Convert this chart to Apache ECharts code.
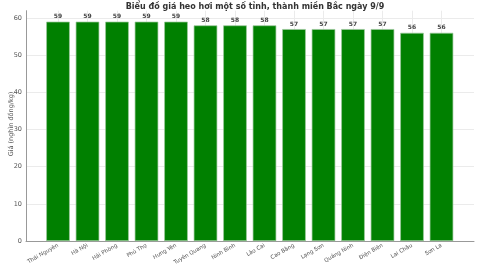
<!DOCTYPE html>
<html><head><meta charset="utf-8">
<script src="https://cdn.jsdelivr.net/npm/echarts@6/dist/echarts.min.js"></script>
<style>html,body{margin:0;padding:0;background:#fff}#c{width:480px;height:270px}</style>
</head><body><div id="c"></div>
<script>
const categories = ['Thái Nguyên','Hà Nội','Hải Phòng','Phú Thọ','Hưng Yên','Tuyên Quang','Ninh Bình','Lào Cai','Cao Bằng','Lạng Sơn','Quảng Ninh','Điện Biên','Lai Châu','Sơn La'];
const prices = [59,59,59,59,59,58,58,58,57,57,57,57,56,56];
const yTicks = [0,10,20,30,40,50,60];
const titleText = 'Biểu đồ giá heo hơi một số tỉnh, thành miền Bắc ngày 9/9';
const yName = 'Giá (nghìn đồng/kg)';

const font = 'DejaVu Sans';
const yMax = 61.95;
const chart = echarts.init(document.getElementById('c'), null, {renderer:'canvas'});
chart.setOption({
  animation:false,
  textStyle:{fontFamily:font},
  title:{text:titleText,left:250,textAlign:'center',top:-2,textStyle:{fontFamily:font,fontSize:8,fontWeight:'bold',color:'#333'}},
  graphic:[{type:'text',x:11,y:124,rotation:Math.PI/2,
    style:{text:yName,fontFamily:font,fontSize:6.5,fill:'#555',textAlign:'center',textVerticalAlign:'middle'}}],
  grid:[
    {left:26,right:6,top:10.7,bottom:29,containLabel:false,outerBoundsMode:'none'},
    {left:58,right:38.5,top:10.7,bottom:29,containLabel:false,outerBoundsMode:'none'}
  ],
  xAxis:[
    {gridIndex:0,type:'value',min:0,max:1,axisLine:{show:true,lineStyle:{color:'#999',width:1}},axisTick:{show:false},axisLabel:{show:false},splitLine:{show:false}},
    {gridIndex:1,type:'category',data:categories,boundaryGap:false,axisLine:{show:false},axisTick:{show:false},
     axisLabel:{rotate:30,fontSize:5.5,color:'#555',margin:4,interval:0},
     splitLine:{show:true,lineStyle:{color:'#ebebeb',width:1}}}
  ],
  yAxis:[
    {gridIndex:0,type:'value',min:0,max:yMax,interval:10,
     axisLine:{show:true,lineStyle:{color:'#999',width:1}},axisTick:{show:false},
     axisLabel:{fontSize:6.5,color:'#555',margin:4,showMaxLabel:false,formatter:v=>yTicks.includes(v)?String(v):''},
     splitLine:{show:true,showMaxLine:false,lineStyle:{color:'#ebebeb',width:1}}},
    {gridIndex:1,type:'value',min:0,max:yMax,show:false,splitLine:{show:false}}
  ],
  series:[{
    type:'bar',xAxisIndex:1,yAxisIndex:1,data:prices,barWidth:23.6,clip:false,z:3,
    itemStyle:{color:'#008000',borderColor:'#9cc89c',borderWidth:0.7},
    label:{show:true,position:'top',distance:2,fontSize:6,fontWeight:'bold',color:'#444'}
  }]
});
</script></body></html>
